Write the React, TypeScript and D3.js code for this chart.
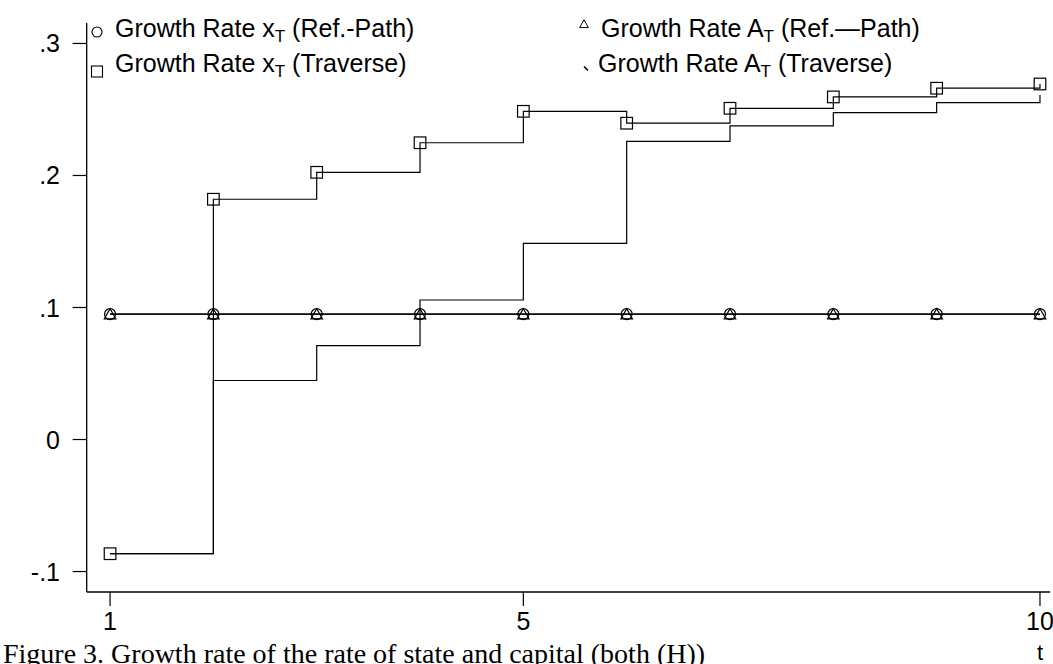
import React from "react";
import * as d3 from "d3";

const periods = [1, 2, 3, 4, 5, 6, 7, 8, 9, 10];
const xRefPath = [0.095, 0.095, 0.095, 0.095, 0.095, 0.095, 0.095, 0.095, 0.095, 0.095];
const aRefPath = [0.095, 0.095, 0.095, 0.095, 0.095, 0.095, 0.095, 0.095, 0.095, 0.095];
const xTraverse = [-0.0865, 0.182, 0.2024, 0.2248, 0.2486, 0.2396, 0.2509, 0.2595, 0.2661, 0.2693];
const aTraverse = [-0.0865, 0.0447, 0.0711, 0.1057, 0.1485, 0.2258, 0.2375, 0.2476, 0.2552, 0.261];
const yTicks = [-0.1, 0, 0.1, 0.2, 0.3];
const yTickLabels = ["-.1", "0", ".1", ".2", ".3"];
const xTicks = [1, 5, 10];
const legendLeft = ["Growth Rate x", "Growth Rate x"];
const caption = "Figure 3. Growth rate of the rate of state and capital (both (H))";

const W = 1053;
const H = 664;
const sans = "'Liberation Sans', Arial, sans-serif";
const serif = "'Liberation Serif', 'Times New Roman', serif";

export default function App() {
  const x = d3.scaleLinear().domain([0.774, 10.097]).range([86.7, 1050]);
  const y = d3.scaleLinear().domain([-0.1155, 0.3155]).range([592, 23]);
  const step = d3
    .line<[number, number]>()
    .x((d) => x(d[0]))
    .y((d) => y(d[1]))
    .curve(d3.curveStepAfter);
  const straight = d3
    .line<[number, number]>()
    .x((d) => x(d[0]))
    .y((d) => y(d[1]));
  const pts = (vals: number[]) => periods.map((t, i) => [t, vals[i]] as [number, number]);
  const [x0, x1] = x.range();
  const [yb, yt] = y.range();
  const fs = 25;

  const tri = (cx: number, cy: number, s: number) =>
    `M${cx},${cy - s} L${cx - s * 1.05},${cy + s * 0.85} L${cx + s * 1.05},${cy + s * 0.85} Z`;

  return (
    <svg width={W} height={H} style={{ position: "absolute", left: 0, top: 0, background: "#fff" }}>
      <rect x={0} y={0} width={W} height={H} fill="#fff" />
      {/* axes */}
      <line x1={x0} x2={x0} y1={yt} y2={yb} stroke="#000" strokeWidth={1.3} />
      <line x1={x0} x2={x1} y1={yb} y2={yb} stroke="#000" strokeWidth={1.3} />
      {yTicks.map((v, i) => (
        <g key={"yt" + i}>
          <line x1={x0 - 14} x2={x0} y1={y(v)} y2={y(v)} stroke="#000" strokeWidth={1.2} />
          <text x={60} y={y(v) + 9} textAnchor="end" fontFamily={sans} fontSize={fs}>
            {yTickLabels[i]}
          </text>
        </g>
      ))}
      {xTicks.map((t) => (
        <g key={"xt" + t}>
          <line x1={x(t)} x2={x(t)} y1={yb} y2={yb + 14} stroke="#000" strokeWidth={1.2} />
          <text x={x(t)} y={630} textAnchor="middle" fontFamily={sans} fontSize={fs}>
            {t}
          </text>
        </g>
      ))}

      {/* series lines */}
      <path d={straight(pts(xRefPath)) || ""} fill="none" stroke="#000" strokeWidth={1.3} />
      <path d={straight(pts(aRefPath)) || ""} fill="none" stroke="#000" strokeWidth={1.3} />
      <path d={step(pts(xTraverse)) || ""} fill="none" stroke="#000" strokeWidth={1.2} />
      <path d={step(pts(aTraverse)) || ""} fill="none" stroke="#000" strokeWidth={1.2} />

      {/* markers */}
      {periods.map((t, i) => (
        <g key={"m" + t} fill="none" stroke="#000" strokeWidth={1.2}>
          <circle cx={x(t)} cy={y(xRefPath[i])} r={5.5} />
          <path d={tri(x(t), y(aRefPath[i]), 5.5)} />
          <rect x={x(t) - 5.8} y={y(xTraverse[i]) - 5.8} width={11.6} height={11.6} />
        </g>
      ))}

      {/* legend */}
      <circle cx={97} cy={32} r={5} fill="none" stroke="#000" strokeWidth={1.1} />
      <text x={115} y={37} fontFamily={sans} fontSize={fs}>
        {legendLeft[0]}
        <tspan fontSize={17} dy={5}>T</tspan>
        <tspan dy={-5}> (Ref.-Path)</tspan>
      </text>
      <rect x={91.5} y={66} width={11} height={11} fill="none" stroke="#000" strokeWidth={1.1} />
      <text x={115} y={72} fontFamily={sans} fontSize={fs}>
        {legendLeft[1]}
        <tspan fontSize={17} dy={5}>T</tspan>
        <tspan dy={-5}> (Traverse)</tspan>
      </text>

      <path d={tri(584, 24, 4.2)} fill="none" stroke="#000" strokeWidth={1} />
      <text x={601} y={37} fontFamily={sans} fontSize={fs}>
        Growth Rate A
        <tspan fontSize={17} dy={5}>T</tspan>
        <tspan dy={-5}> (Ref.—Path)</tspan>
      </text>
      <line x1={584} y1={66.5} x2={588} y2={70.5} stroke="#000" strokeWidth={1.6} />
      <text x={598} y={72} fontFamily={sans} fontSize={fs}>
        Growth Rate A
        <tspan fontSize={17} dy={5}>T</tspan>
        <tspan dy={-5}> (Traverse)</tspan>
      </text>

      {/* axis title and caption */}
      <text x={1040} y={660} textAnchor="middle" fontFamily={sans} fontSize={22}>
        t
      </text>
      <text x={3} y={663} fontFamily={serif} fontSize={28}>
        {caption}
      </text>
    </svg>
  );
}
